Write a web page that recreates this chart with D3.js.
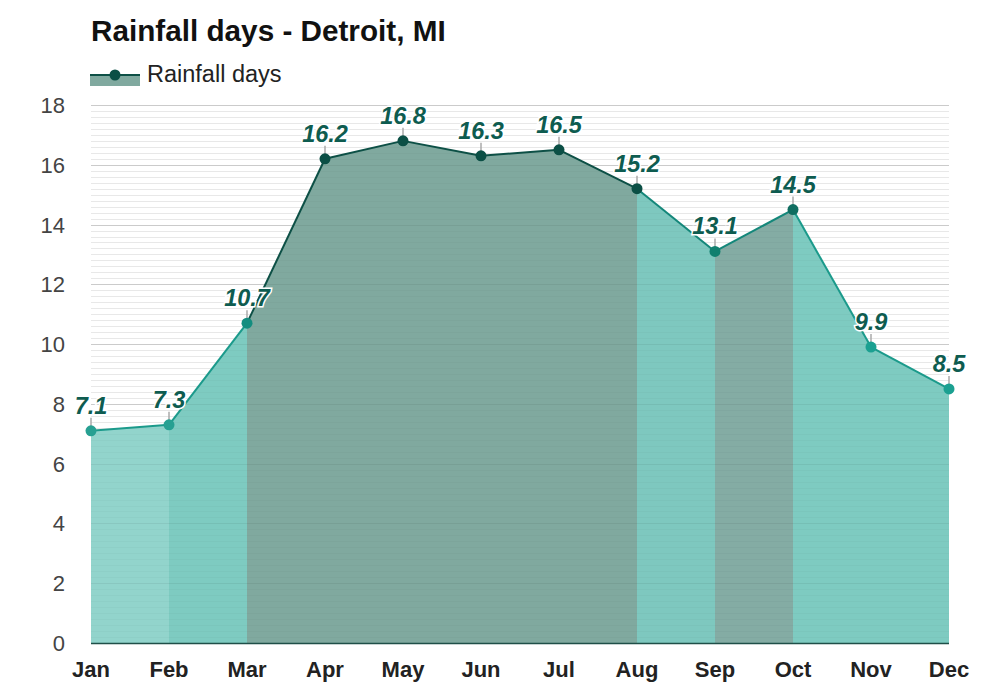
<!DOCTYPE html>
<html><head><meta charset="utf-8">
<script src="https://cdn.jsdelivr.net/npm/d3@7"></script>
<style>body{margin:0;background:#fff;font-family:Arial,"Liberation Sans",sans-serif;}</style>
</head><body>
<svg id="c" width="1000" height="700"></svg>
<script>
const months = ["Jan","Feb","Mar","Apr","May","Jun","Jul","Aug","Sep","Oct","Nov","Dec"];
const rainfallDays = [7.1,7.3,10.7,16.2,16.8,16.3,16.5,15.2,13.1,14.5,9.9,8.5];
const yTicks = [0,2,4,6,8,10,12,14,16,18];
// per-segment (between month i and i+1) styling
const segFill = ["#92d4cc","#7ecbc1","#80a99f","#80a99f","#80a99f","#80a99f","#80a99f","#7ec8bf","#84aca4","#7ecbc1","#7ecbc1"];
const segLine = ["#1b9a8b","#1b9a8b","#0d5046","#0d5046","#0d5046","#0d5046","#0d5046","#14877a","#14877a","#1b9a8b","#1b9a8b"];
const pointColor = ["#27a092","#27a092","#138d7f","#0b4f45","#0b4f45","#0b4f45","#0b4f45","#0b4f45","#11806f","#0f6d60","#1ba091","#1ba091"];

const svg = d3.select("#c");
const x = d3.scalePoint().domain(months).range([91,949]);
const y = d3.scaleLinear().domain([0,18]).range([643,105]);

const isMajor = d => Math.abs(d/2-Math.round(d/2))<1e-6;
const minor = d3.range(0,18.01,0.2);
svg.append("g").selectAll("line").data(minor).join("line")
  .attr("x1",91).attr("x2",949)
  .attr("y1",d=>Math.round(y(d))+0.5).attr("y2",d=>Math.round(y(d))+0.5)
  .attr("stroke",d=>isMajor(d)?"#d8d8d8":"#eeeeee").attr("stroke-width",1);

for(let i=0;i<11;i++){
  const a=months[i], b=months[i+1];
  svg.append("path")
    .attr("d",`M${x(a)},${y(0)}L${x(a)},${y(rainfallDays[i])}L${x(b)},${y(rainfallDays[i+1])}L${x(b)},${y(0)}Z`)
    .attr("fill",segFill[i]);
}
svg.append("g").selectAll("line").data(minor).join("line")
  .attr("x1",91).attr("x2",949)
  .attr("y1",d=>Math.round(y(d))+0.5).attr("y2",d=>Math.round(y(d))+0.5)
  .attr("stroke","#000").attr("stroke-opacity",d=>isMajor(d)?0.06:0.025);

for(let i=0;i<11;i++){
  svg.append("line")
    .attr("x1",x(months[i])).attr("y1",y(rainfallDays[i]))
    .attr("x2",x(months[i+1])).attr("y2",y(rainfallDays[i+1]))
    .attr("stroke",segLine[i]).attr("stroke-width",2);
}
svg.append("line").attr("x1",91).attr("x2",949).attr("y1",643.5).attr("y2",643.5).attr("stroke","#1f4f48").attr("stroke-width",1.5);

svg.append("g").selectAll("line").data(rainfallDays).join("line")
  .attr("x1",(d,i)=>x(months[i])).attr("x2",(d,i)=>x(months[i]))
  .attr("y1",d=>y(d)-4).attr("y2",d=>y(d)-13)
  .attr("stroke","#aaa").attr("stroke-width",1.5);
svg.append("g").selectAll("circle").data(rainfallDays).join("circle")
  .attr("cx",(d,i)=>x(months[i])).attr("cy",d=>y(d)).attr("r",5.5)
  .attr("fill",(d,i)=>pointColor[i]);
svg.append("g").selectAll("text").data(rainfallDays).join("text")
  .attr("x",(d,i)=>x(months[i])).attr("y",d=>y(d)-17)
  .attr("text-anchor","middle")
  .attr("font-size",23.5).attr("font-weight","bold").attr("font-style","italic")
  .attr("fill","#0e5c50").attr("stroke","#fff").attr("stroke-width",3).attr("paint-order","stroke")
  .text(d=>d.toFixed(1));

svg.append("g").selectAll("text").data(yTicks).join("text")
  .attr("x",65).attr("y",d=>y(d)+8).attr("text-anchor","end")
  .attr("font-size",22).attr("fill","#444").text(d=>d);
svg.append("g").selectAll("text").data(months).join("text")
  .attr("x",d=>x(d)).attr("y",677).attr("text-anchor","middle")
  .attr("font-size",22).attr("font-weight","bold").attr("fill","#222").text(d=>d);

svg.append("text").attr("x",91).attr("y",41).attr("font-size",29.7).attr("font-weight","bold").attr("fill","#111")
  .text("Rainfall days - Detroit, MI");
svg.append("rect").attr("x",90).attr("y",75).attr("width",50).attr("height",11).attr("fill","#80a99f");
svg.append("line").attr("x1",90).attr("x2",140).attr("y1",75).attr("y2",75).attr("stroke","#0d5046").attr("stroke-width",2);
svg.append("circle").attr("cx",115).attr("cy",75).attr("r",5.5).attr("fill","#0b4f45");
svg.append("text").attr("x",147).attr("y",82).attr("font-size",23.5).attr("fill","#222").text("Rainfall days");
</script>
</body></html>
